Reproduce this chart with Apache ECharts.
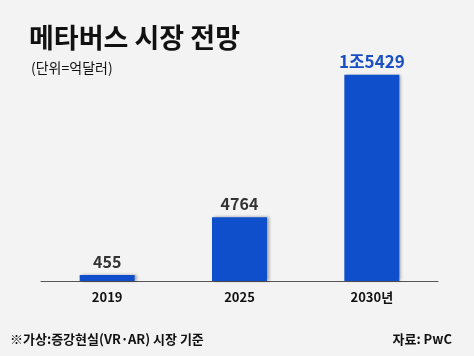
<!DOCTYPE html>
<html><head><meta charset="utf-8">
<script src="https://cdn.jsdelivr.net/npm/echarts@6/dist/echarts.min.js"></script>
<style>html,body{margin:0;padding:0;background:#f3f3f3}#c{width:474px;height:356px}</style>
</head><body><div id="c"></div>
<script>
const categories = ['2019', '2025', '2030년'];
const values = [455, 4764, 15429];
const valueLabels = ['455', '4764', '1조5429'];
const labelColors = ['#333333', '#333333', '#1a4fc4'];
const F = '"Noto Sans CJK KR", "Noto Sans", sans-serif';
const chart = echarts.init(document.getElementById('c'));
chart.setOption({
  backgroundColor: '#f3f3f3',
  animation: false,
  title: [
    {text: '메타버스 시장 전망', left: 24, top: 19, textStyle: {fontFamily: F, fontSize: 27, fontWeight: 'bold', color: '#111'}},
    {text: '(단위=억달러)', left: 26, top: 56, textStyle: {fontFamily: F, fontSize: 14, fontWeight: 'normal', color: '#111'}}
  ],
  graphic: [
    {type: 'text', left: 10, top: 333, style: {text: '※가상:증강현실(VR·AR) 시장 기준', font: 'bold 13px ' + F, fill: '#111'}},
    {type: 'text', right: 22, top: 333, style: {text: '자료: PwC', font: 'bold 13px ' + F, fill: '#111'}}
  ],
  grid: {left: 41, right: 36, top: 67, bottom: 75},
  xAxis: {
    type: 'category', data: categories,
    axisLine: {lineStyle: {color: '#555', width: 1}},
    axisTick: {show: false},
    axisLabel: {fontFamily: F, fontSize: 13, fontWeight: 'bold', color: '#111', margin: 10}
  },
  yAxis: {type: 'value', min: 0, max: 16000, show: false, splitLine: {show: false}},
  series: [{
    type: 'bar', barWidth: 55,
    data: values.map((v, i) => ({
      value: v,
      label: {color: labelColors[i], fontSize: i === 2 ? 17 : 16}
    })),
    itemStyle: {color: '#0f4fcb', shadowColor: 'rgba(0,0,0,0.35)', shadowBlur: 3, shadowOffsetX: 2, shadowOffsetY: 0},
    label: {
      show: true, position: 'top', distance: 5,
      fontFamily: F, fontWeight: 'bold',
      formatter: p => valueLabels[p.dataIndex]
    }
  }]
});
</script></body></html>
